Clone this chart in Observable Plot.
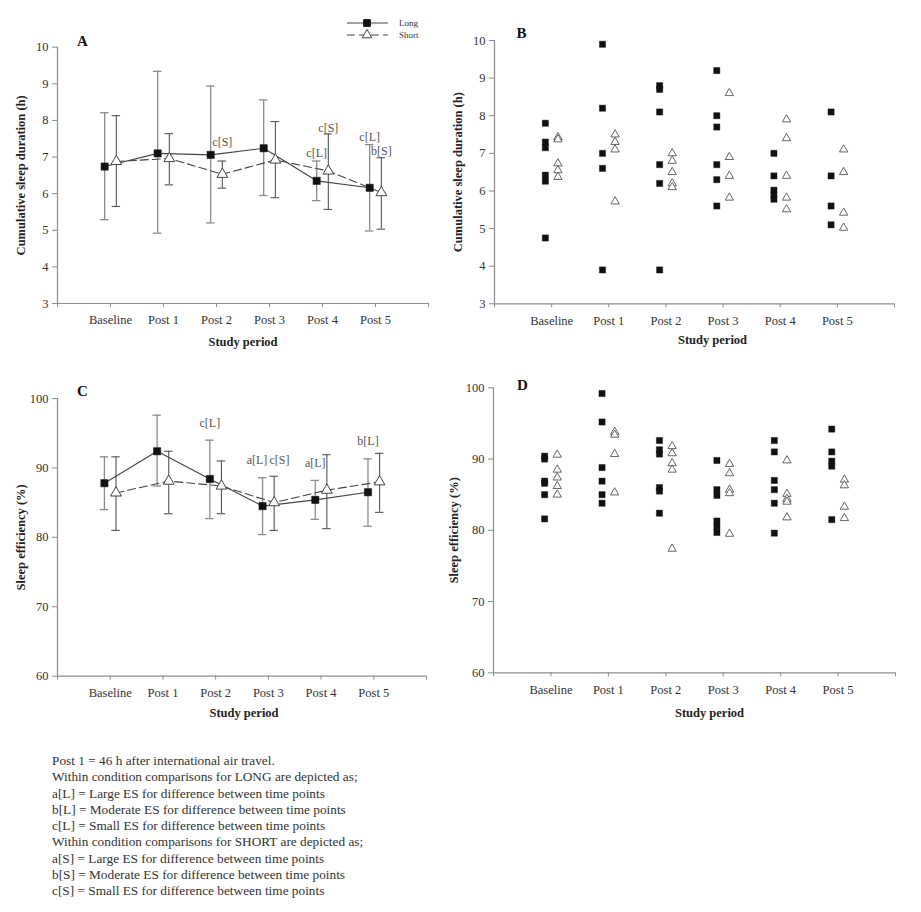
<!DOCTYPE html>
<html><head><meta charset="utf-8">
<script src="https://cdn.jsdelivr.net/npm/d3@7"></script>
<script src="https://cdn.jsdelivr.net/npm/@observablehq/plot@0.6"></script>
<style>
body{margin:0;background:#fff;}
#wrap{position:relative;width:921px;height:912px;font-family:"Liberation Serif","Times New Roman",serif;background:#fff;overflow:hidden;}
.panel{position:absolute;}
#note{position:absolute;left:52px;top:753px;font-size:13.3px;line-height:16.3px;color:#333;white-space:nowrap;}
#legend{position:absolute;left:340px;top:12px;}
</style></head><body><div id="wrap">
<div id="pA" class="panel" style="left:0;top:0"></div>
<div id="pB" class="panel" style="left:440px;top:0"></div>
<div id="pC" class="panel" style="left:0;top:360px"></div>
<div id="pD" class="panel" style="left:440px;top:360px"></div>
<div id="legend"></div>
<div id="note"></div>
</div>
<script>
// ---------- DATA ----------
const periods = ["Baseline","Post 1","Post 2","Post 3","Post 4","Post 5"];
const seriesNames = ["Long","Short"];

// Panel A: cumulative sleep duration (h), mean with SD bars
const durLongMean  = [6.74, 7.10, 7.06, 7.24, 6.35, 6.16];
const durLongHi    = [8.21, 9.34, 8.94, 8.56, 6.89, 7.34];
const durLongLo    = [5.29, 4.92, 5.20, 5.95, 5.81, 4.98];
const durShortMean = [6.88, 6.96, 6.53, 6.92, 6.62, 6.03];
const durShortHi   = [8.13, 7.64, 6.89, 7.97, 7.63, 6.98];
const durShortLo   = [5.65, 6.24, 6.15, 5.89, 5.57, 5.03];
const durAnnotations = [
  {period:"Post 2", series:"Short", text:"c[S]", y:7.40},
  {period:"Post 4", series:"Long",  text:"c[L]", y:7.10},
  {period:"Post 4", series:"Short", text:"c[S]", y:7.80},
  {period:"Post 5", series:"Long",  text:"c[L]", y:7.55},
  {period:"Post 5", series:"Short", text:"b[S]", y:7.15}
];

// Panel B: individual cumulative sleep duration (h)
const durLongIndiv = [
  [7.8, 7.3, 7.15, 6.42, 6.26, 4.75],
  [9.9, 8.2, 7.0, 6.6, 3.9],
  [8.8, 8.7, 8.1, 6.7, 6.2, 3.9],
  [9.2, 8.0, 7.7, 6.7, 6.3, 5.6],
  [7.0, 6.4, 6.02, 5.9, 5.78],
  [8.1, 6.4, 5.6, 5.1]
];
const durShortIndiv = [
  [7.43, 7.37, 6.73, 6.55, 6.37],
  [7.5, 7.3, 7.1, 5.72],
  [7.0, 6.8, 6.5, 6.2, 6.1],
  [8.6, 6.9, 6.4, 5.82],
  [7.9, 7.4, 6.4, 5.82, 5.51],
  [7.1, 6.5, 5.42, 5.02]
];

// Panel C: sleep efficiency (%), mean with SD bars
const effLongMean  = [87.8, 92.4, 88.4, 84.5, 85.4, 86.5];
const effLongHi    = [91.6, 97.6, 94.0, 88.6, 88.2, 91.3];
const effLongLo    = [84.0, 87.4, 82.7, 80.4, 82.6, 81.6];
const effShortMean = [86.4, 88.1, 87.4, 85.0, 86.8, 88.0];
const effShortHi   = [91.6, 92.4, 91.0, 88.8, 91.9, 92.1];
const effShortLo   = [81.0, 83.4, 83.4, 81.0, 81.25, 83.6];
const effAnnotations = [
  {period:"Post 2", series:"Long",  text:"c[L]", y:96.4},
  {period:"Post 3", series:"Long",  text:"a[L]", y:91.1},
  {period:"Post 3", series:"Short", text:"c[S]", y:91.1},
  {period:"Post 4", series:"Long",  text:"a[L]", y:90.7},
  {period:"Post 5", series:"Long",  text:"b[L]", y:93.8}
];

// Panel D: individual sleep efficiency (%)
const effLongIndiv = [
  [90.4, 90.0, 86.9, 86.6, 85.0, 81.6],
  [99.2, 95.2, 88.8, 86.9, 85.0, 83.8],
  [92.6, 91.3, 90.7, 86.0, 85.5, 82.4],
  [89.8, 85.7, 84.9, 81.3, 80.5, 79.7],
  [92.6, 91.0, 87.0, 85.7, 83.8, 79.6],
  [94.2, 91.0, 89.7, 89.0, 81.5]
];
const effShortIndiv = [
  [90.6, 88.5, 87.4, 86.2, 85.0],
  [93.8, 93.4, 90.7, 85.3],
  [91.8, 90.8, 89.4, 88.5, 77.4],
  [89.3, 88.0, 85.7, 85.2, 79.5],
  [89.8, 85.1, 84.4, 84.0, 81.8],
  [87.1, 86.3, 83.3, 81.7]
];

const durTicks = [3,4,5,6,7,8,9,10];
const effTicks = [60,70,80,90,100];
const durLabel = "Cumulative sleep duration (h)";
const effLabel = "Sleep efficiency (%)";
const xLabel = "Study period";

const noteLines = [
  "Post 1 = 46 h after international air travel.",
  "Within condition comparisons for LONG are depicted as;",
  "a[L] = Large ES for difference between time points",
  "b[L] = Moderate ES for difference between time points",
  "c[L] = Small ES for difference between time points",
  "Within condition comparisons for SHORT are depicted as;",
  "a[S] = Large ES for difference between time points",
  "b[S] = Moderate ES for difference between time points",
  "c[S] = Small ES for difference between time points"
];

// ---------- HELPERS ----------
const OFF = {Long:-0.11, Short:0.11};
const CAP = 0.08;
const AXIS = "#8c8c8c", TXT = "#333";
const FONT = "'Liberation Serif','Times New Roman',serif";
const xPos = (period, series) => periods.indexOf(period) + 1 + OFF[series];

function summaryRows(series, mean, lo, hi) {
  return periods.map((p, i) => ({period:p, series, x:xPos(p, series), m:mean[i], lo:lo[i], hi:hi[i]}));
}
function indivRows(series, nested) {
  return nested.flatMap((vals, i) => vals.map(v => ({period:periods[i], series, x:xPos(periods[i], series), v})));
}
// when a Long and a Short label share a period and height, split them around the period's midpoint
function annotationRows(annotations) {
  return annotations.map(d => {
    const pair = annotations.find(e => e !== d && e.period === d.period && e.y === d.y);
    if (!pair) return {...d, x:xPos(d.period, d.series), anchor:"middle"};
    const mid = (xPos(d.period, "Long") + xPos(d.period, "Short")) / 2;
    return d.series === "Long"
      ? {...d, x:mid - 0.02, anchor:"end"}
      : {...d, x:mid + 0.02, anchor:"start"};
  });
}

function frameMarks(yDomain, yTicks, opt) {
  return [
    Plot.ruleX([0], {stroke:AXIS, strokeWidth:1.2}),
    Plot.ruleY([yDomain[0]], {stroke:AXIS, strokeWidth:1.2}),
    Plot.axisY({ticks:yTicks, tickFormat:d3.format("d"), tickSize:5, tickPadding:4, label:null, stroke:AXIS, fill:TXT, fontSize:12.5}),
    Plot.axisX({ticks:d3.range(0, 8), tickFormat:i => periods[i-1] ?? "", tickSize:4, tickPadding:8, label:null, stroke:AXIS, fill:TXT, fontSize:12.5}),
    Plot.text([opt.ylabel], {text:d => d, frameAnchor:"left", dx:opt.ylabDx, rotate:-90, textAnchor:"middle", lineAnchor:"middle", fontWeight:"bold", fontSize:12.5, fill:"#222"}),
    Plot.text([xLabel], {text:d => d, frameAnchor:"bottom", dx:opt.xlabDx, dy:opt.xlabDy, textAnchor:"middle", lineAnchor:"middle", fontWeight:"bold", fontSize:12.5, fill:"#222"}),
    Plot.text([opt.letter], {text:d => d, frameAnchor:"top-left", dx:opt.letterDx, dy:opt.letterDy, textAnchor:"middle", lineAnchor:"middle", fontWeight:"bold", fontSize:15, fill:"#111"})
  ];
}

function makePlot(opt, marks) {
  return Plot.plot({
    width:opt.w, height:opt.h,
    marginLeft:opt.mL, marginRight:opt.mR, marginTop:opt.mT, marginBottom:opt.mB,
    style:{fontFamily:FONT, fontSize:"12.5px", background:"transparent", overflow:"visible"},
    x:{type:"linear", domain:[0, 7], axis:null},
    y:{type:"linear", domain:opt.yDomain, axis:null},
    marks:[...frameMarks(opt.yDomain, opt.yTicks, opt), ...marks]
  });
}

function summaryMarks(longRows, shortRows, annotations) {
  const ann = annotationRows(annotations);
  return [
    Plot.ruleX(longRows, {x:"x", y1:"lo", y2:"hi", stroke:"#8c8c8c", strokeWidth:1.3}),
    Plot.ruleX(shortRows, {x:"x", y1:"lo", y2:"hi", stroke:"#555", strokeWidth:1.1}),
    Plot.ruleY(longRows, {y:"hi", x1:d => d.x - CAP, x2:d => d.x + CAP, stroke:"#8c8c8c", strokeWidth:1.3}),
    Plot.ruleY(longRows, {y:"lo", x1:d => d.x - CAP, x2:d => d.x + CAP, stroke:"#8c8c8c", strokeWidth:1.3}),
    Plot.ruleY(shortRows, {y:"hi", x1:d => d.x - CAP, x2:d => d.x + CAP, stroke:"#555", strokeWidth:1.1}),
    Plot.ruleY(shortRows, {y:"lo", x1:d => d.x - CAP, x2:d => d.x + CAP, stroke:"#555", strokeWidth:1.1}),
    Plot.line(longRows, {x:"x", y:"m", stroke:"#444", strokeWidth:1.1}),
    Plot.line(shortRows, {x:"x", y:"m", stroke:"#444", strokeWidth:1.1, strokeDasharray:"8,4"}),
    Plot.dot(longRows, {x:"x", y:"m", symbol:"square", r:4.1, fill:"#111", stroke:"#111", strokeWidth:0.5}),
    Plot.dot(shortRows, {x:"x", y:"m", symbol:"triangle", r:4, fill:"white", stroke:"#444", strokeWidth:1}),
    Plot.text(ann.filter(d => d.anchor === "middle"), {x:"x", y:"y", text:"text", fill:"#555", fontSize:12}),
    Plot.text(ann.filter(d => d.anchor === "end"), {x:"x", y:"y", text:"text", textAnchor:"end", fill:"#555", fontSize:12}),
    Plot.text(ann.filter(d => d.anchor === "start"), {x:"x", y:"y", text:"text", textAnchor:"start", fill:"#555", fontSize:12})
  ];
}

function indivMarks(longRows, shortRows) {
  return [
    Plot.dot(longRows, {x:"x", y:"v", symbol:"square", r:3.5, fill:"#111", stroke:"#111", strokeWidth:0.4}),
    Plot.dot(shortRows, {x:"x", y:"v", symbol:"triangle", r:3.1, fill:"white", stroke:"#555", strokeWidth:0.9})
  ];
}

// ---------- PANELS ----------
const optA = {w:460, h:360, mL:57, mR:32, mT:46.7, mB:57, yDomain:[3,10], yTicks:durTicks,
  letter:"A", ylabel:durLabel, ylabDx:-37, xlabDx:0, xlabDy:38, letterDx:25, letterDy:-6};
const optB = {w:481, h:360, mL:54, mR:27, mT:40, mB:56.7, yDomain:[3,10], yTicks:durTicks,
  letter:"B", ylabel:durLabel, ylabDx:-37, xlabDx:18, xlabDy:36, letterDx:27, letterDy:-7};
const optC = {w:460, h:360, mL:57, mR:34, mT:38, mB:44.3, yDomain:[60,100], yTicks:effTicks,
  letter:"C", ylabel:effLabel, ylabDx:-37, xlabDx:2, xlabDy:37, letterDx:25, letterDy:-7};
const optD = {w:481, h:360, mL:53, mR:26, mT:27.3, mB:47.7, yDomain:[60,100], yTicks:effTicks,
  letter:"D", ylabel:effLabel, ylabDx:-40, xlabDx:15, xlabDy:40, letterDx:29, letterDy:-3};

document.getElementById("pA").append(makePlot(optA, summaryMarks(
  summaryRows("Long", durLongMean, durLongLo, durLongHi),
  summaryRows("Short", durShortMean, durShortLo, durShortHi), durAnnotations)));
document.getElementById("pB").append(makePlot(optB, indivMarks(
  indivRows("Long", durLongIndiv), indivRows("Short", durShortIndiv))));
document.getElementById("pC").append(makePlot(optC, summaryMarks(
  summaryRows("Long", effLongMean, effLongLo, effLongHi),
  summaryRows("Short", effShortMean, effShortLo, effShortHi), effAnnotations)));
document.getElementById("pD").append(makePlot(optD, indivMarks(
  indivRows("Long", effLongIndiv), indivRows("Short", effShortIndiv))));

// ---------- LEGEND ----------
(function () {
  const svg = d3.select("#legend").append("svg").attr("width", 90).attr("height", 32)
    .style("font-family", FONT).style("overflow", "visible");
  seriesNames.forEach((s, i) => {
    const y = 11 + i * 12;
    svg.append("line").attr("x1", 7).attr("x2", 48).attr("y1", y).attr("y2", y)
      .attr("stroke", "#444").attr("stroke-width", 1.1)
      .attr("stroke-dasharray", s === "Short" ? "8,4" : null);
    svg.append("path").attr("transform", `translate(27,${y})`)
      .attr("d", d3.symbol(s === "Long" ? d3.symbolSquare : d3.symbolTriangle, s === "Long" ? 45 : 40)())
      .attr("fill", s === "Long" ? "#111" : "white").attr("stroke", s === "Long" ? "#111" : "#444");
    svg.append("text").attr("x", 59).attr("y", y).attr("dy", "0.35em")
      .attr("font-size", 9).attr("fill", TXT).text(s);
  });
})();

// ---------- NOTE ----------
d3.select("#note").selectAll("div").data(noteLines).join("div").text(d => d);
</script>
</body></html>
